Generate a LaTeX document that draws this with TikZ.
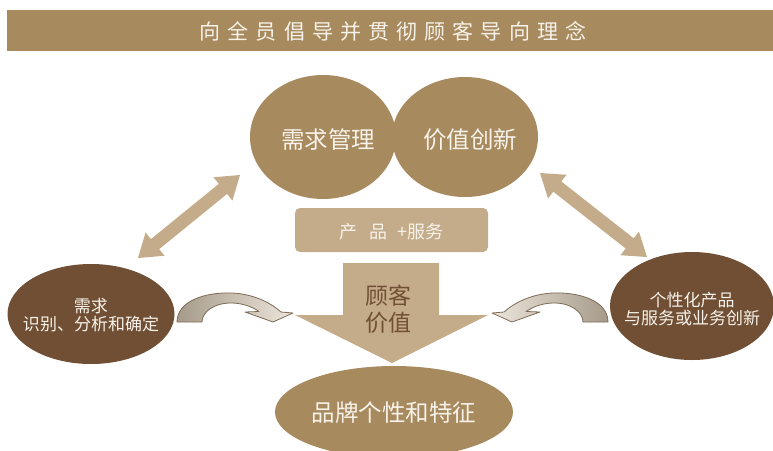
\documentclass[tikz,border=0pt]{standalone}
\usepackage{fontspec}
\newfontfamily\cjk{Noto Sans CJK SC}
\newfontfamily\cjkwide[LetterSpace=34]{Noto Sans CJK SC}
\usetikzlibrary{calc,shapes.geometric}
\definecolor{tanc}{HTML}{A88A5F}
\definecolor{lightc}{HTML}{C4AC8A}
\definecolor{darkc}{HTML}{704F34}
\definecolor{paletext}{HTML}{F7F2EA}
\definecolor{curvegray}{HTML}{A69B8A}
\definecolor{curvecream}{HTML}{ECE5DA}
\definecolor{curveline}{HTML}{7D6B57}
\newcommand\dblarrowpath[2]{%
  \fill[lightc] (#1)
    -- ($(#1)!22pt!(#2)!15pt!90:(#2)$)
    -- ($(#1)!22pt!(#2)!6.5pt!90:(#2)$)
    -- ($(#2)!22pt!(#1)!6.5pt!-90:(#1)$)
    -- ($(#2)!22pt!(#1)!15pt!-90:(#1)$)
    -- (#2)
    -- ($(#2)!22pt!(#1)!15pt!90:(#1)$)
    -- ($(#2)!22pt!(#1)!6.5pt!90:(#1)$)
    -- ($(#1)!22pt!(#2)!6.5pt!-90:(#2)$)
    -- ($(#1)!22pt!(#2)!15pt!-90:(#2)$)
    -- cycle;}
\begin{document}
\begin{tikzpicture}[x=1pt,y=-1pt,
  ellbase/.style={ellipse,inner sep=0pt,draw=none},
  tanell/.style={ellbase,fill=tanc},
  darkell/.style={ellbase,fill=darkc},
  paletxt/.style={text=paletext,font=\cjk\fontsize{23.5}{26}\selectfont,inner sep=0pt},
  smalltxt/.style={text=paletext,font=\cjk\fontsize{17}{18}\selectfont,align=center,inner sep=0pt},
]
\useasboundingbox (0,0) rectangle (773,450);
\clip (0,0) rectangle (773,450);

% title bar
\node[fill=tanc,minimum width=766pt,minimum height=41pt,inner sep=0pt] (title) at (390,30.5) {};
\node[text=paletext,font=\cjkwide\fontsize{21}{24}\selectfont,inner sep=0pt] (titletxt) at (393,31) {向全员倡导并贯彻顾客导向理念};

% top circles
\node[tanell,minimum width=146pt,minimum height=124pt] (need) at (323,137) {};
\node[tanell,minimum width=146pt,minimum height=120pt] (value) at (465,137) {};
\node[paletxt] (needtxt) at (328,140) {需求管理};
\node[paletxt] (valuetxt) at (470,140) {价值创新};

% product + service box
\node[fill=lightc,rounded corners=5pt,minimum width=193pt,minimum height=44pt,inner sep=0pt] (prod) at (391.5,230) {};
\node[text=paletext,font=\cjk\fontsize{18}{20}\selectfont,inner sep=0pt] (prodtxt) at (391.5,232) {产\hspace{0.7em}品\hspace{0.55em}+服务};

% bottom ellipse
\node[tanell,minimum width=238pt,minimum height=92pt] (brand) at (394,412) {};
\node[paletxt] (brandtxt) at (394,413) {品牌个性和特征};

% big down arrow
\fill[lightc] (343,263) -- (439,263) -- (439,315) -- (488,315) -- (392,363) -- (295,315) -- (343,315) -- cycle;
\node[text=darkc,font=\cjk\fontsize{23}{27}\selectfont,align=center,inner sep=0pt] (custval) at (388,309) {顾客\\价值};

% side dark ellipses
\node[darkell,minimum width=167pt,minimum height=100pt] (req) at (91,314) {};
\node[smalltxt] (reqtxt) at (91,315) {需求\\识别、分析和确定};
\node[darkell,minimum width=164pt,minimum height=108pt] (indiv) at (692,306) {};
\node[smalltxt] (indivtxt) at (692,309) {个性化产品\\与服务或业务创新};

% double arrows
\coordinate (la1) at (138,258);
\coordinate (la2) at (240,175);
\coordinate (ra1) at (540,173);
\coordinate (ra2) at (647,257);
\dblarrowpath{la1}{la2}
\dblarrowpath{ra1}{ra2}

% curved arrows
\shade[left color=curvegray,right color=curvecream,draw=curveline,line width=0.8pt,line join=round]
  (177,322) .. controls (177,301) and (205,292) .. (232,293)
  .. controls (254,294) and (271,303) .. (281,312)
  -- (293,313) -- (273,322) -- (245,312) -- (259,311.5)
  .. controls (251,306) and (241,303) .. (231,303)
  .. controls (214,303) and (202,312) .. (202,322) -- cycle;
\shade[right color=curvegray,left color=curvecream,draw=curveline,line width=0.8pt,line join=round]
  (608,322) .. controls (608,301) and (580,292) .. (553,293)
  .. controls (531,294) and (514,303) .. (504,312)
  -- (492,313) -- (512,322) -- (540,312) -- (526,311.5)
  .. controls (534,306) and (544,303) .. (554,303)
  .. controls (571,303) and (583,312) .. (583,322) -- cycle;
\end{tikzpicture}
\end{document}
